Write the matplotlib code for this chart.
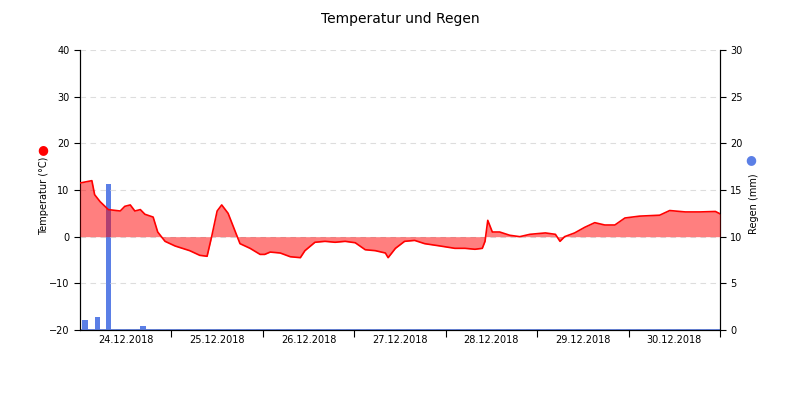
import numpy as np
import matplotlib
matplotlib.use('Agg')
import matplotlib.pyplot as plt

# time in days since 24.12.2018 00:00
temp_days = [0, .13, .16, .22, .31, .44, .49, .55, .60, .66, .71, .80, .85, .93, 1.04, 1.20, 1.31, 1.39,
             1.44, 1.50, 1.55, 1.62, 1.70, 1.75, 1.86, 1.97, 2.02, 2.08, 2.19, 2.30, 2.41, 2.46, 2.57,
             2.68, 2.79, 2.90, 3.01, 3.12, 3.23, 3.34, 3.37, 3.45, 3.55, 3.66, 3.77, 3.94, 4.10, 4.21,
             4.32, 4.40, 4.43, 4.46, 4.51, 4.59, 4.70, 4.81, 4.92, 5.09, 5.20, 5.25, 5.30, 5.41, 5.52,
             5.63, 5.74, 5.85, 5.96, 6.12, 6.34, 6.45, 6.62, 6.78, 6.95, 7.0]
temp_vals = [11.5, 12, 9, 7.5, 5.8, 5.5, 6.5, 6.8, 5.5, 5.8, 4.8, 4.2, 1, -1, -2, -3, -4, -4.2,
             0, 5.5, 6.8, 5, 1, -1.5, -2.5, -3.8, -3.8, -3.3, -3.5, -4.3, -4.5, -3, -1.2,
             -1, -1.2, -1, -1.3, -2.8, -3, -3.5, -4.5, -2.5, -1, -0.8, -1.5, -2, -2.5, -2.5,
             -2.7, -2.5, -1, 3.5, 1, 1, 0.3, 0, 0.5, 0.8, 0.5, -1, 0, 0.8, 2,
             3, 2.5, 2.5, 4, 4.4, 4.6, 5.6, 5.3, 5.3, 5.4, 4.9]

rain_days = [0.055, 0.19, 0.31, 0.69]
rain_vals = [1.1, 1.4, 15.6, 0.4]

day_labels = ['24.12.2018', '25.12.2018', '26.12.2018', '27.12.2018',
              '28.12.2018', '29.12.2018', '30.12.2018']

fig = plt.figure(figsize=(8, 4), dpi=100)
ax = fig.add_axes([0.1, 0.175, 0.8, 0.7])
ax2 = ax.twinx()

ax2.bar(rain_days, rain_vals, width=0.06, color='#5b7fe6', zorder=1)
ax2.axhline(0, color='#5b7fe6', lw=2)
ax2.set_ylim(0, 30)
ax2.set_yticks(range(0, 31, 5))

ax.set_zorder(ax2.get_zorder() + 1)
ax.patch.set_visible(False)
ax.set_axisbelow(True)
ax.fill_between(temp_days, temp_vals, 0, color='#ff0000', alpha=0.5, lw=0, zorder=3)
ax.plot(temp_days, temp_vals, color='#ff0000', lw=1.2, zorder=4)
ax.set_ylim(-20, 40)
ax.set_xlim(0, 7)
ax.set_yticks(range(-20, 41, 10))
ax.grid(axis='y', color='#dddddd', ls=(0, (5, 4)), lw=0.8, zorder=0)

ax.set_xticks(range(1, 8))
ax.set_xticklabels([])
ax.set_xticks(np.arange(0.5, 7, 1), minor=True)
ax.set_xticklabels(day_labels, minor=True)
ax.tick_params(axis='x', which='minor', length=0, labelsize=7)
ax.tick_params(axis='x', which='major', length=5)
ax.tick_params(axis='y', labelsize=7, length=4)
ax2.tick_params(axis='y', labelsize=7, length=4)

for a in (ax, ax2):
    a.spines['top'].set_visible(False)
fig.text(0.055, 0.51, 'Temperatur (°C)', fontsize=7, rotation=90, ha='center', va='center')
fig.text(0.942, 0.49, 'Regen (mm)', fontsize=7, rotation=90, ha='center', va='center')
fig.text(0.054, 0.627, '●', color='#ff0000', fontsize=9, ha='center', va='center')
fig.text(0.939, 0.6, '●', color='#5b7fe6', fontsize=9, ha='center', va='center')
fig.suptitle('Temperatur und Regen', y=0.97, fontsize=10)

fig.savefig('out.png')
